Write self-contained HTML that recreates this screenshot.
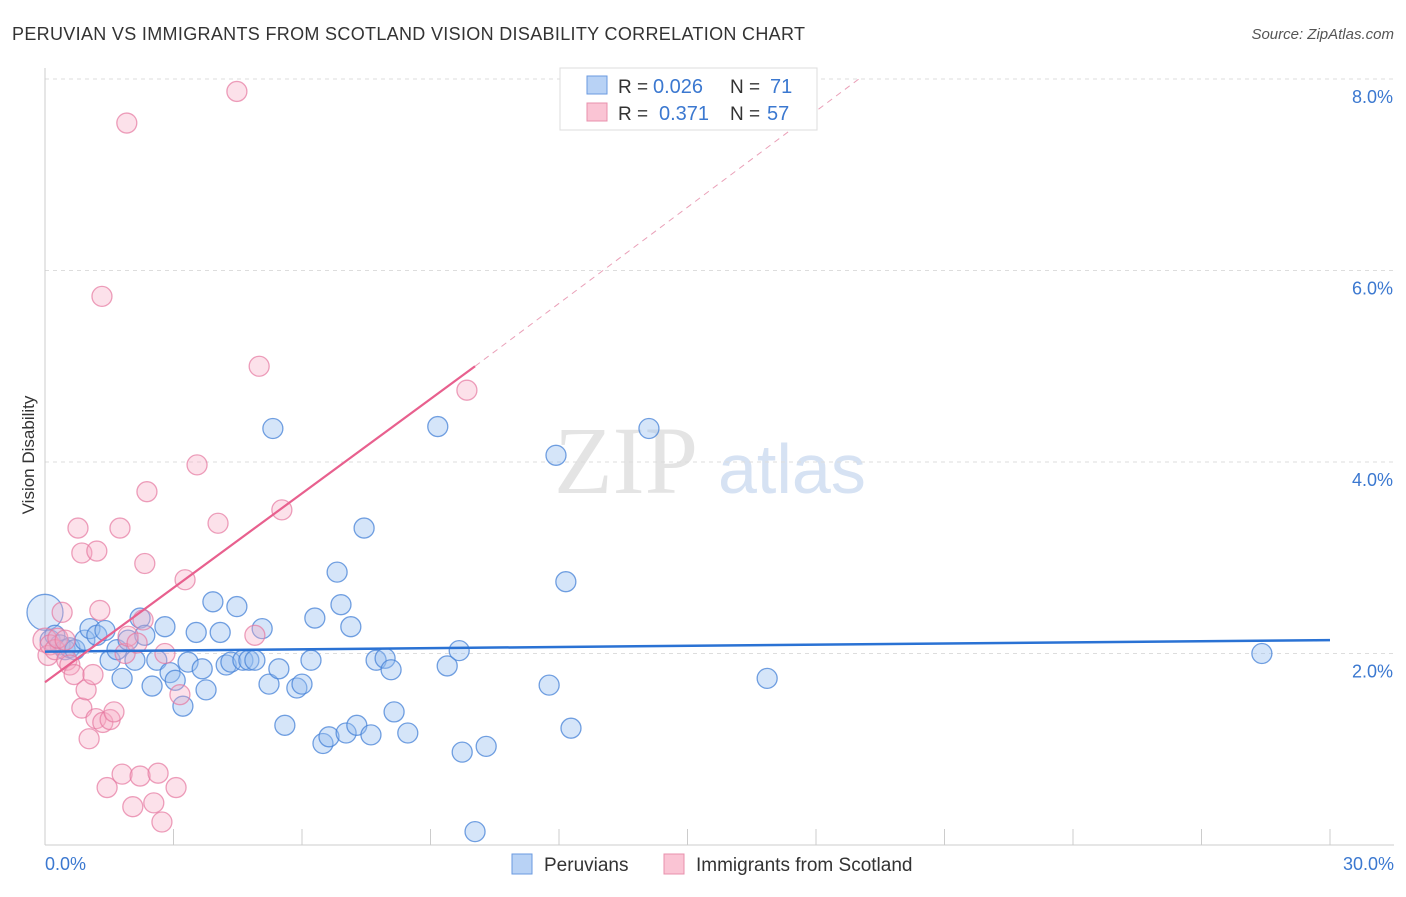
<!DOCTYPE html>
<html><head><meta charset="utf-8"><style>
body{margin:0;background:#fff;font-family:"Liberation Sans",sans-serif;}
</style></head><body>
<svg width="1406" height="892" xmlns="http://www.w3.org/2000/svg">
<text x="12" y="40" font-size="18" fill="#333" textLength="793">PERUVIAN VS IMMIGRANTS FROM SCOTLAND VISION DISABILITY CORRELATION CHART</text>
<text x="1394" y="39" font-size="15" fill="#555" font-style="italic" text-anchor="end">Source: ZipAtlas.com</text>
<text x="554" y="493" font-size="96" fill="#e4e4e4" font-family="Liberation Serif">ZIP</text>
<text x="718" y="493" font-size="70" fill="#d6e2f3">atlas</text>
<g id="grid"></g>
<line x1="45" y1="68" x2="45" y2="845" stroke="#ccc"/>
<line x1="45" y1="845" x2="1394" y2="845" stroke="#ccc"/>
<g id="marks"></g>
<text transform="translate(34,455) rotate(-90)" font-size="17" fill="#333" text-anchor="middle">Vision Disability</text>
<text x="45" y="870" font-size="18" fill="#3b78d0">0.0%</text>
<text x="1394" y="870" font-size="18" fill="#3b78d0" text-anchor="end">30.0%</text>
<g>
<rect x="560" y="68" width="257" height="62" fill="#fff" stroke="#ddd"/>
<rect x="587" y="76" width="20" height="18" fill="#b8d2f5" stroke="#6a9ae0"/>
<rect x="587" y="103" width="20" height="18" fill="#fac4d4" stroke="#e890ad"/>
<text x="618" y="93" font-size="19" fill="#333">R =</text>
<text x="653" y="93" font-size="20" fill="#3b78d0">0.026</text>
<text x="730" y="93" font-size="19" fill="#333">N =</text>
<text x="770" y="93" font-size="20" fill="#3b78d0">71</text>
<text x="618" y="120" font-size="19" fill="#333">R =</text>
<text x="659" y="120" font-size="20" fill="#3b78d0">0.371</text>
<text x="730" y="120" font-size="19" fill="#333">N =</text>
<text x="767" y="120" font-size="20" fill="#3b78d0">57</text>
</g>
<g>
<rect x="512" y="854" width="20" height="20" fill="#b8d2f5" stroke="#6a9ae0"/>
<text x="544" y="871" font-size="19" fill="#333">Peruvians</text>
<rect x="664" y="854" width="20" height="20" fill="#fac4d4" stroke="#e890ad"/>
<text x="696" y="871" font-size="19" fill="#333">Immigrants from Scotland</text>
</g>
</svg>
<script>
const yTicks=[2,4,6,8];
const xTickVals=[0,3,6,9,12,15,18,21,24,27,30];
const blueX=[0,0.12,0.23,0.35,0.47,0.58,0.7,0.93,1.05,1.21,1.4,1.52,1.68,1.8,1.94,2.1,2.22,2.33,2.5,2.61,2.8,2.92,3.04,3.22,3.34,3.53,3.67,3.76,3.92,4.09,4.23,4.34,4.48,4.62,4.76,4.9,5.07,5.23,5.32,5.46,5.6,5.88,6.0,6.21,6.3,6.49,6.63,6.82,6.91,7.03,7.14,7.28,7.45,7.61,7.73,7.94,8.08,8.15,8.47,9.17,9.39,9.67,9.74,10.04,10.3,11.77,11.93,12.16,12.28,14.1,16.86,28.41];
const blueY=[2.43,2.14,2.19,2.09,2.04,2.06,2.04,2.14,2.26,2.19,2.24,1.93,2.04,1.74,2.14,1.93,2.37,2.19,1.66,1.93,2.28,1.8,1.72,1.45,1.91,2.22,1.84,1.62,2.54,2.22,1.88,1.91,2.49,1.93,1.93,1.93,2.26,1.68,4.35,1.84,1.25,1.64,1.68,1.93,2.37,1.06,1.13,2.85,2.51,1.17,2.28,1.25,3.31,1.15,1.93,1.95,1.83,1.39,1.17,4.37,1.87,2.03,0.97,0.14,1.03,1.67,4.07,2.75,1.22,4.35,1.74,2.0];
const pinkX=[0,0.07,0.12,0.23,0.30,0.40,0.47,0.51,0.58,0.68,0.77,0.86,0.86,0.96,1.03,1.12,1.19,1.21,1.28,1.33,1.35,1.45,1.52,1.61,1.75,1.80,1.87,1.91,1.94,2.05,2.15,2.22,2.29,2.33,2.38,2.54,2.64,2.73,2.80,3.06,3.15,3.27,3.55,4.04,4.48,4.9,5.0,5.53,9.85];
const pinkY=[2.14,1.98,2.09,2.04,2.16,2.43,2.14,1.93,1.88,1.78,3.31,3.05,1.43,1.62,1.11,1.78,1.32,3.07,2.45,5.73,1.28,0.60,1.31,1.39,3.31,0.74,2.0,7.54,2.18,0.40,2.11,0.72,2.35,2.94,3.69,0.44,0.75,0.24,2.0,0.60,1.57,2.77,3.97,3.36,7.87,2.19,5.0,3.5,4.75];
const blueLine=[[0,2.02],[30,2.14]];
const pinkLine=[[0,1.7],[10.04,5.0]];
const pinkDash=[[10.04,5.0],[19.0,8.0]];
const sx=v=>45+v*42.833, sy=v=>845-v*95.75;
const NS="http://www.w3.org/2000/svg";
const grid=document.getElementById('grid'), marks=document.getElementById('marks'), svg=document.querySelector('svg');
function mk(tag,at,parent){const e=document.createElementNS(NS,tag);for(const k in at)e.setAttribute(k,at[k]);parent.appendChild(e);return e;}
yTicks.forEach(t=>{
 const l=mk('line',{x1:45,x2:1394,y1:sy(t),y2:sy(t),stroke:'#ddd','stroke-dasharray':'4,4'},grid);
 
 
 const tx=mk('text',{x:1393,y:sy(t)+24,'font-size':18,fill:'#3b78d0','text-anchor':'end'},svg);
 tx.textContent=t.toFixed(1)+'%';
 
 
});
xTickVals.forEach(t=>{
 const l=mk('line',{x1:sx(t),x2:sx(t),y1:829,y2:845,stroke:'#ccc'},grid);
 
 
});
blueX.forEach((x,i)=>{
 const c=mk('circle',{cx:sx(x),cy:sy(blueY[i]),r:i==0?18:10,fill:i==0?'rgba(150,190,240,0.3)':'rgba(150,190,240,0.4)',stroke:'rgba(70,130,215,0.75)','stroke-width':1.3},marks);
 
 
});
pinkX.forEach((x,i)=>{
 const c=mk('circle',{cx:sx(x),cy:sy(pinkY[i]),r:i==0?12:10,fill:'rgba(245,170,195,0.35)',stroke:'rgba(230,120,160,0.7)','stroke-width':1.3},marks);
 
 
});
const bl=mk('line',{x1:sx(blueLine[0][0]),y1:sy(blueLine[0][1]),x2:sx(blueLine[1][0]),y2:sy(blueLine[1][1]),stroke:'#2a72d4','stroke-width':2.5},marks);


const pl=mk('line',{x1:sx(pinkLine[0][0]),y1:sy(pinkLine[0][1]),x2:sx(pinkLine[1][0]),y2:sy(pinkLine[1][1]),stroke:'#e8608e','stroke-width':2.2},marks);


const pd=mk('line',{x1:sx(pinkDash[0][0]),y1:sy(pinkDash[0][1]),x2:sx(pinkDash[1][0]),y2:sy(pinkDash[1][1]),stroke:'#eaa0b8','stroke-width':1,'stroke-dasharray':'6,5'},marks);


</script>
</body></html>
